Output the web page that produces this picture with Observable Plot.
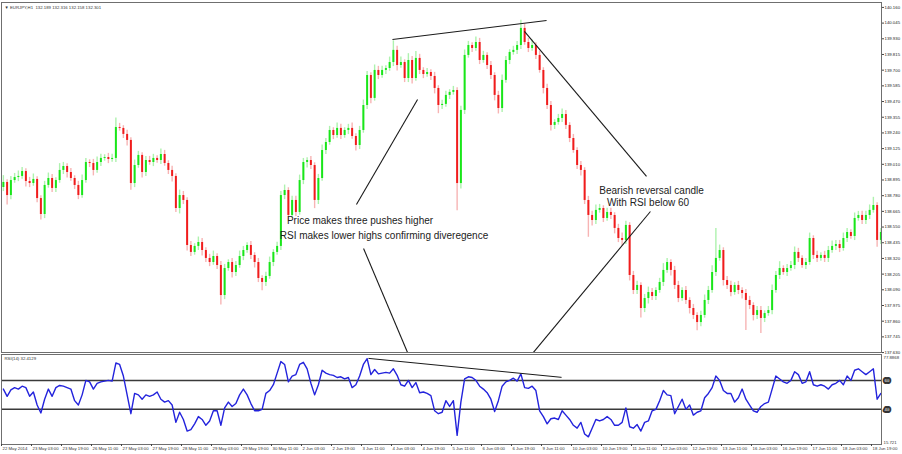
<!DOCTYPE html>
<html><head><meta charset="utf-8">
<script src="https://cdn.jsdelivr.net/npm/d3@7"></script>
<script src="https://cdn.jsdelivr.net/npm/@observablehq/plot@0.6"></script>
<style>
body{margin:0;background:#fff;}
#wrap{position:relative;width:902px;height:454px;overflow:hidden;}
#wrap svg{position:absolute;left:0;}
</style></head><body><div id="wrap"></div>
<script>
// ---- data (EURJPY, 2-hour candles) ----
const firstOpen = 138.84;
const closes = [
138.877,138.781,138.891,138.913,138.921,138.957,138.884,138.869,138.899,138.759,
138.642,138.855,138.906,138.833,138.891,138.965,138.994,138.950,138.906,138.855,
138.781,138.891,139.023,139.016,138.965,139.023,139.053,139.060,139.045,139.053,
139.280,139.273,139.229,139.185,138.869,139.001,139.075,138.950,139.038,139.023,
139.053,139.038,139.082,139.016,138.965,138.921,138.686,138.781,138.745,138.415,
138.364,138.408,138.437,138.378,138.320,138.290,138.334,138.268,138.048,138.246,
138.290,138.217,138.268,138.334,138.378,138.415,138.342,138.290,138.173,138.144,
138.188,138.290,138.364,138.408,138.781,138.818,138.635,138.745,138.657,138.891,
139.023,139.038,139.001,138.745,138.906,139.111,139.170,139.258,139.221,139.273,
139.221,139.258,139.273,139.214,139.148,139.258,139.441,139.661,139.493,139.698,
139.661,139.698,139.712,139.756,139.845,139.734,139.756,139.639,139.771,139.639,
139.786,139.698,139.668,139.683,139.654,139.566,139.441,139.449,139.515,139.537,
139.551,138.869,139.405,139.808,139.881,139.859,139.903,139.771,139.808,139.734,
139.661,139.515,139.419,139.625,139.771,139.830,139.845,139.881,140.006,139.903,
139.859,139.881,139.808,139.698,139.566,139.441,139.295,139.317,139.346,139.375,
139.295,139.199,139.111,139.001,138.965,138.745,138.635,138.598,138.672,138.686,
138.613,138.657,138.635,138.540,138.466,138.452,138.562,138.195,138.085,138.122,
137.953,138.026,138.070,138.041,138.085,138.144,138.232,138.290,138.232,138.122,
138.026,138.085,138.012,137.953,137.902,137.850,137.902,138.012,138.085,138.217,
138.320,138.378,138.158,138.122,138.070,138.122,138.085,138.063,138.012,137.975,
137.902,137.938,137.880,137.916,137.938,138.085,138.195,138.246,138.217,138.246,
138.268,138.364,138.320,138.268,138.290,138.466,138.342,138.320,138.342,138.320,
138.378,138.408,138.422,138.393,138.466,138.510,138.481,138.613,138.635,138.598,
138.635,138.672,138.708,138.452,138.510];
// wick lengths in pips (0.01 JPY)
const upperWick = [
5,2,3,3,4,3,2,3,4,2, 2,3,4,3,2,5,3,2,3,2, 3,4,3,2,3,4,3,2,3,3, 7,3,2,3,2,4,3,2,3,3,
3,2,4,3,2,3,2,4,3,2, 3,2,4,3,2,3,4,2,3,3, 2,3,3,4,3,2,3,2,3,2, 3,4,2,3,3,4,2,3,3,4,
3,2,3,2,3,4,3,3,2,4, 3,2,3,4,2,3,4,3,2,4, 3,3,2,4,7,3,4,2,5,3, 5,3,2,3,2,3,2,3,3,2,
3,2,3,4,3,2,4,3,3,2, 3,2,3,4,3,2,3,3,6,3, 3,4,2,3,2,3,3,2,3,4, 3,2,3,2,3,2,3,3,4,3,
2,3,3,2,3,4,3,2,3,3, 2,3,4,3,2,3,5,3,2,3, 3,2,3,2,3,2,3,4,3,5, 22,4,2,3,3,2,3,2,3,3,
2,3,3,2,3,4,3,5,2,3, 3,4,3,2,3,4,2,3,2,3, 3,4,3,3,4,3,2,4,3,3, 3,4,6,2,3];
const lowerWick = [
3,7,3,2,3,2,4,3,2,3, 4,3,2,3,3,2,3,4,2,3, 3,2,2,3,4,2,3,2,3,2, 3,2,3,4,5,3,2,4,3,2,
3,2,3,2,3,4,3,4,3,4, 3,2,3,4,3,3,2,3,7,3, 2,4,3,2,3,2,3,4,3,6, 3,2,3,2,3,3,4,2,3,2,
3,4,3,6,3,2,3,2,3,2, 3,2,3,2,4,3,2,3,4,2, 3,2,3,2,3,4,2,3,3,4, 2,3,3,2,3,4,6,3,2,3,
2,20,4,3,2,3,2,3,2,3, 3,4,4,3,2,3,2,3,3,2, 3,2,3,2,4,3,4,3,2,3, 3,3,2,3,4,3,16,4,3,2,
3,2,3,4,3,4,3,4,3,3, 7,3,4,3,3,2,3,2,4,3, 3,2,3,4,3,6,3,2,3,2, 3,2,4,3,3,2,3,4,22,3,
4,3,11,3,2,3,2,3,2,3, 2,3,3,2,3,2,3,3,2,3, 3,2,3,3,2,3,2,3,2,3, 3,3,2,5,3];
const rsi = [
54,49,53.5,55,54,56,55,49,52,43, 37.5,47,54,49,55,56.5,56,55,54,46,
43,50,60,59,54,58,59,59.5,60,59.5, 72,71,63,50,37,51,50,47,50,49,
50,52,47,45,46,43,31,38,33,25, 26,30,35,33,29,32,39,39,29,41,
45,42,44,50,54,50,44,39,39,40, 51,53,57,65,73,71,59,63,64,71,
72.5,68,58,50,57,67,65,64,63.5,62, 62.5,61,62,55,57,63,71,75,64,67.5,
64.5,65,65.5,65,68,63.5,57,56,60,55, 58.5,51.5,52,51,49.5,39,37,38,46,42,
46,22,45,61,62.5,62,60,56,54,51.5, 47,38.5,46,56,59,60,61.5,59.5,64.5,55,
54.5,56,53,39,35,30,33.5,34,33,39, 36,33,29,27,31,23,21,27,33,32,
33,35,33,29,29,31,41,28,27,29.5, 25,31,32,39,40,46,53,50,49.5,37,
42,47,40,43,36,38,39,48,51,55, 63,60,53,51,51,45,48,54,47,43,
39,38,42,44,45,54,63,61,59,58, 60,66,64,58,59,66,57,56,57,56,
54,57,58,60,57,63,60,67,68,66, 64,66,68,47,51];
const priceTicks = [140.160,140.045,139.930,139.815,139.700,139.585,139.470,139.355,139.240,139.125,139.010,138.895,
  138.780,138.665,138.550,138.435,138.320,138.205,138.090,137.975,137.860,137.745,137.630];
const timeLabels = ["22 May 2014","23 May 03:00","23 May 19:00","26 May 11:00","27 May 03:00","27 May 19:00","28 May 11:00",
  "29 May 03:00","29 May 19:00","30 May 11:00","2 Jun 03:00","2 Jun 19:00","3 Jun 11:00","4 Jun 03:00","4 Jun 19:00",
  "5 Jun 11:00","6 Jun 03:00","6 Jun 19:00","9 Jun 11:00","10 Jun 03:00","10 Jun 19:00","11 Jun 11:00","12 Jun 03:00",
  "12 Jun 19:00","13 Jun 11:00","16 Jun 03:00","16 Jun 19:00","17 Jun 11:00","18 Jun 03:00","18 Jun 19:00"];
const hoursPerLabel = 16;
const header = "\u25BC EURJPY,H1  132.189 132.316 132.158 132.301";
const rsiHeader = "RSI(14) 32.4129";
const rsiLevels = [60, 40];
const rsiRange = [15.721, 77.8868];
const priceRange = [137.6305, 140.196];
const hourRange = [0, 469.33];
// annotation lines (hour index, price)
const priceLines = [
  {h1: 208.5, p1: 139.925, h2: 290.7, p2: 140.064},
  {h1: 278.9, p1: 139.984, h2: 344.0, p2: 138.921},
  {h1: 221.9, p1: 139.485, h2: 189.3, p2: 138.715},
  {h1: 193.1, p1: 138.393, h2: 216.5, p2: 137.632},
  {h1: 346.1, p1: 138.664, h2: 283.7, p2: 137.632}
];
const rsiLine = [{h1: 195.7, v1: 75.2, h2: 298.7, v2: 62.1}];
const notes = [
  {h: 191.2, p: 138.598, text: "Price makes three pushes higher"},
  {h: 204.0, p: 138.488, text: "RSI makes lower highs confirming diveregence"},
  {h: 346.7, p: 138.818, text: "Bearish reversal candle"},
  {h: 344.8, p: 138.730, text: "With RSI below 60"}
];

// ---- build ----
const candles = closes.map((c, j) => {
  const o = j === 0 ? firstOpen : closes[j - 1];
  return {h: 2 * j + 1, o, c, hi: Math.max(o, c) + upperWick[j] / 100, lo: Math.min(o, c) - lowerWick[j] / 100, up: c >= o};
});
const rsiPts = rsi.map((v, j) => ({h: 2 * j + 1, v}));
const timeTicks = timeLabels.map((label, k) => ({h: k * hoursPerLabel, label}));
const FONT = "'Liberation Sans', Arial, sans-serif";
const tiny = 4.3;

const A = Plot.plot({
  width: 902, height: 354, marginTop: 2, marginBottom: 2, marginLeft: 1, marginRight: 21,
  x: {domain: hourRange, axis: null},
  y: {domain: priceRange, axis: null},
  style: {fontFamily: FONT, background: "transparent", color: "#222"},
  marks: [
    Plot.ruleX(candles, {x: "h", y1: "lo", y2: "hi", stroke: d => d.up ? "#aef2ae" : "#f7b4b4", strokeWidth: 1.4}),
    Plot.ruleX(candles, {x: "h", y1: "o", y2: "c", stroke: d => d.up ? "#19e619" : "#f01c1c", strokeWidth: 2}),
    Plot.link(priceLines, {x1: "h1", y1: "p1", x2: "h2", y2: "p2", stroke: "#1a1a1a", strokeWidth: 1.1}),
    Plot.text(notes, {x: "h", y: "p", text: "text", fontSize: 10, fill: "#222", fontFamily: FONT}),
    Plot.frame({stroke: "#6f6f6f"}),
    Plot.axisY({anchor: "right", ticks: priceTicks, tickFormat: d3.format(".3f"), tickSize: 2, tickPadding: 1, fontSize: tiny, stroke: "#444"}),
    Plot.text([header], {text: d => d, frameAnchor: "top-left", dx: 3, dy: 3, lineAnchor: "top", textAnchor: "start", fontSize: tiny, fill: "#333"})
  ]
});

const B = Plot.plot({
  width: 902, height: 102, marginTop: 2, marginBottom: 10, marginLeft: 1, marginRight: 21,
  x: {domain: hourRange, axis: null},
  y: {domain: rsiRange, axis: null},
  style: {fontFamily: FONT, background: "transparent", color: "#222"},
  marks: [
    Plot.ruleY(rsiLevels, {stroke: "#3a3a3a", strokeWidth: 1.5}),
    Plot.line(rsiPts, {x: "h", y: "v", stroke: "#2323dc", strokeWidth: 1.4}),
    Plot.link(rsiLine, {x1: "h1", y1: "v1", x2: "h2", y2: "v2", stroke: "#1a1a1a", strokeWidth: 1}),
    Plot.frame({stroke: "#6f6f6f"}),
    Plot.axisX({ticks: timeTicks.map(d => d.h), tickSize: 2, tickFormat: () => "", stroke: "#444"}),
    Plot.text(timeTicks, {x: "h", text: "label", frameAnchor: "bottom", textAnchor: "start", lineAnchor: "top", dx: 1, dy: 2, fontSize: tiny, fill: "#333"}),
    Plot.text(rsiLevels, {y: d => d, text: d => String(d), frameAnchor: "right", textAnchor: "start", dx: 3, fontSize: tiny, fill: "#fff", stroke: "#333", strokeWidth: 4, paintOrder: "stroke"}),
    Plot.text([rsiRange[1]], {text: d => String(d), frameAnchor: "top-right", textAnchor: "start", lineAnchor: "top", dx: 2, dy: 1, fontSize: tiny, fill: "#333"}),
    Plot.text([rsiRange[0]], {text: d => String(d), frameAnchor: "bottom-right", textAnchor: "start", lineAnchor: "bottom", dx: 2, dy: -1, fontSize: tiny, fill: "#333"}),
    Plot.text([rsiHeader], {text: d => d, frameAnchor: "top-left", textAnchor: "start", lineAnchor: "top", dx: 3, dy: 2, fontSize: tiny, fill: "#333"})
  ]
});

const wrap = document.getElementById("wrap");
A.style.top = "0px";
B.style.top = "352px";
wrap.appendChild(A);
wrap.appendChild(B);
</script></body></html>
